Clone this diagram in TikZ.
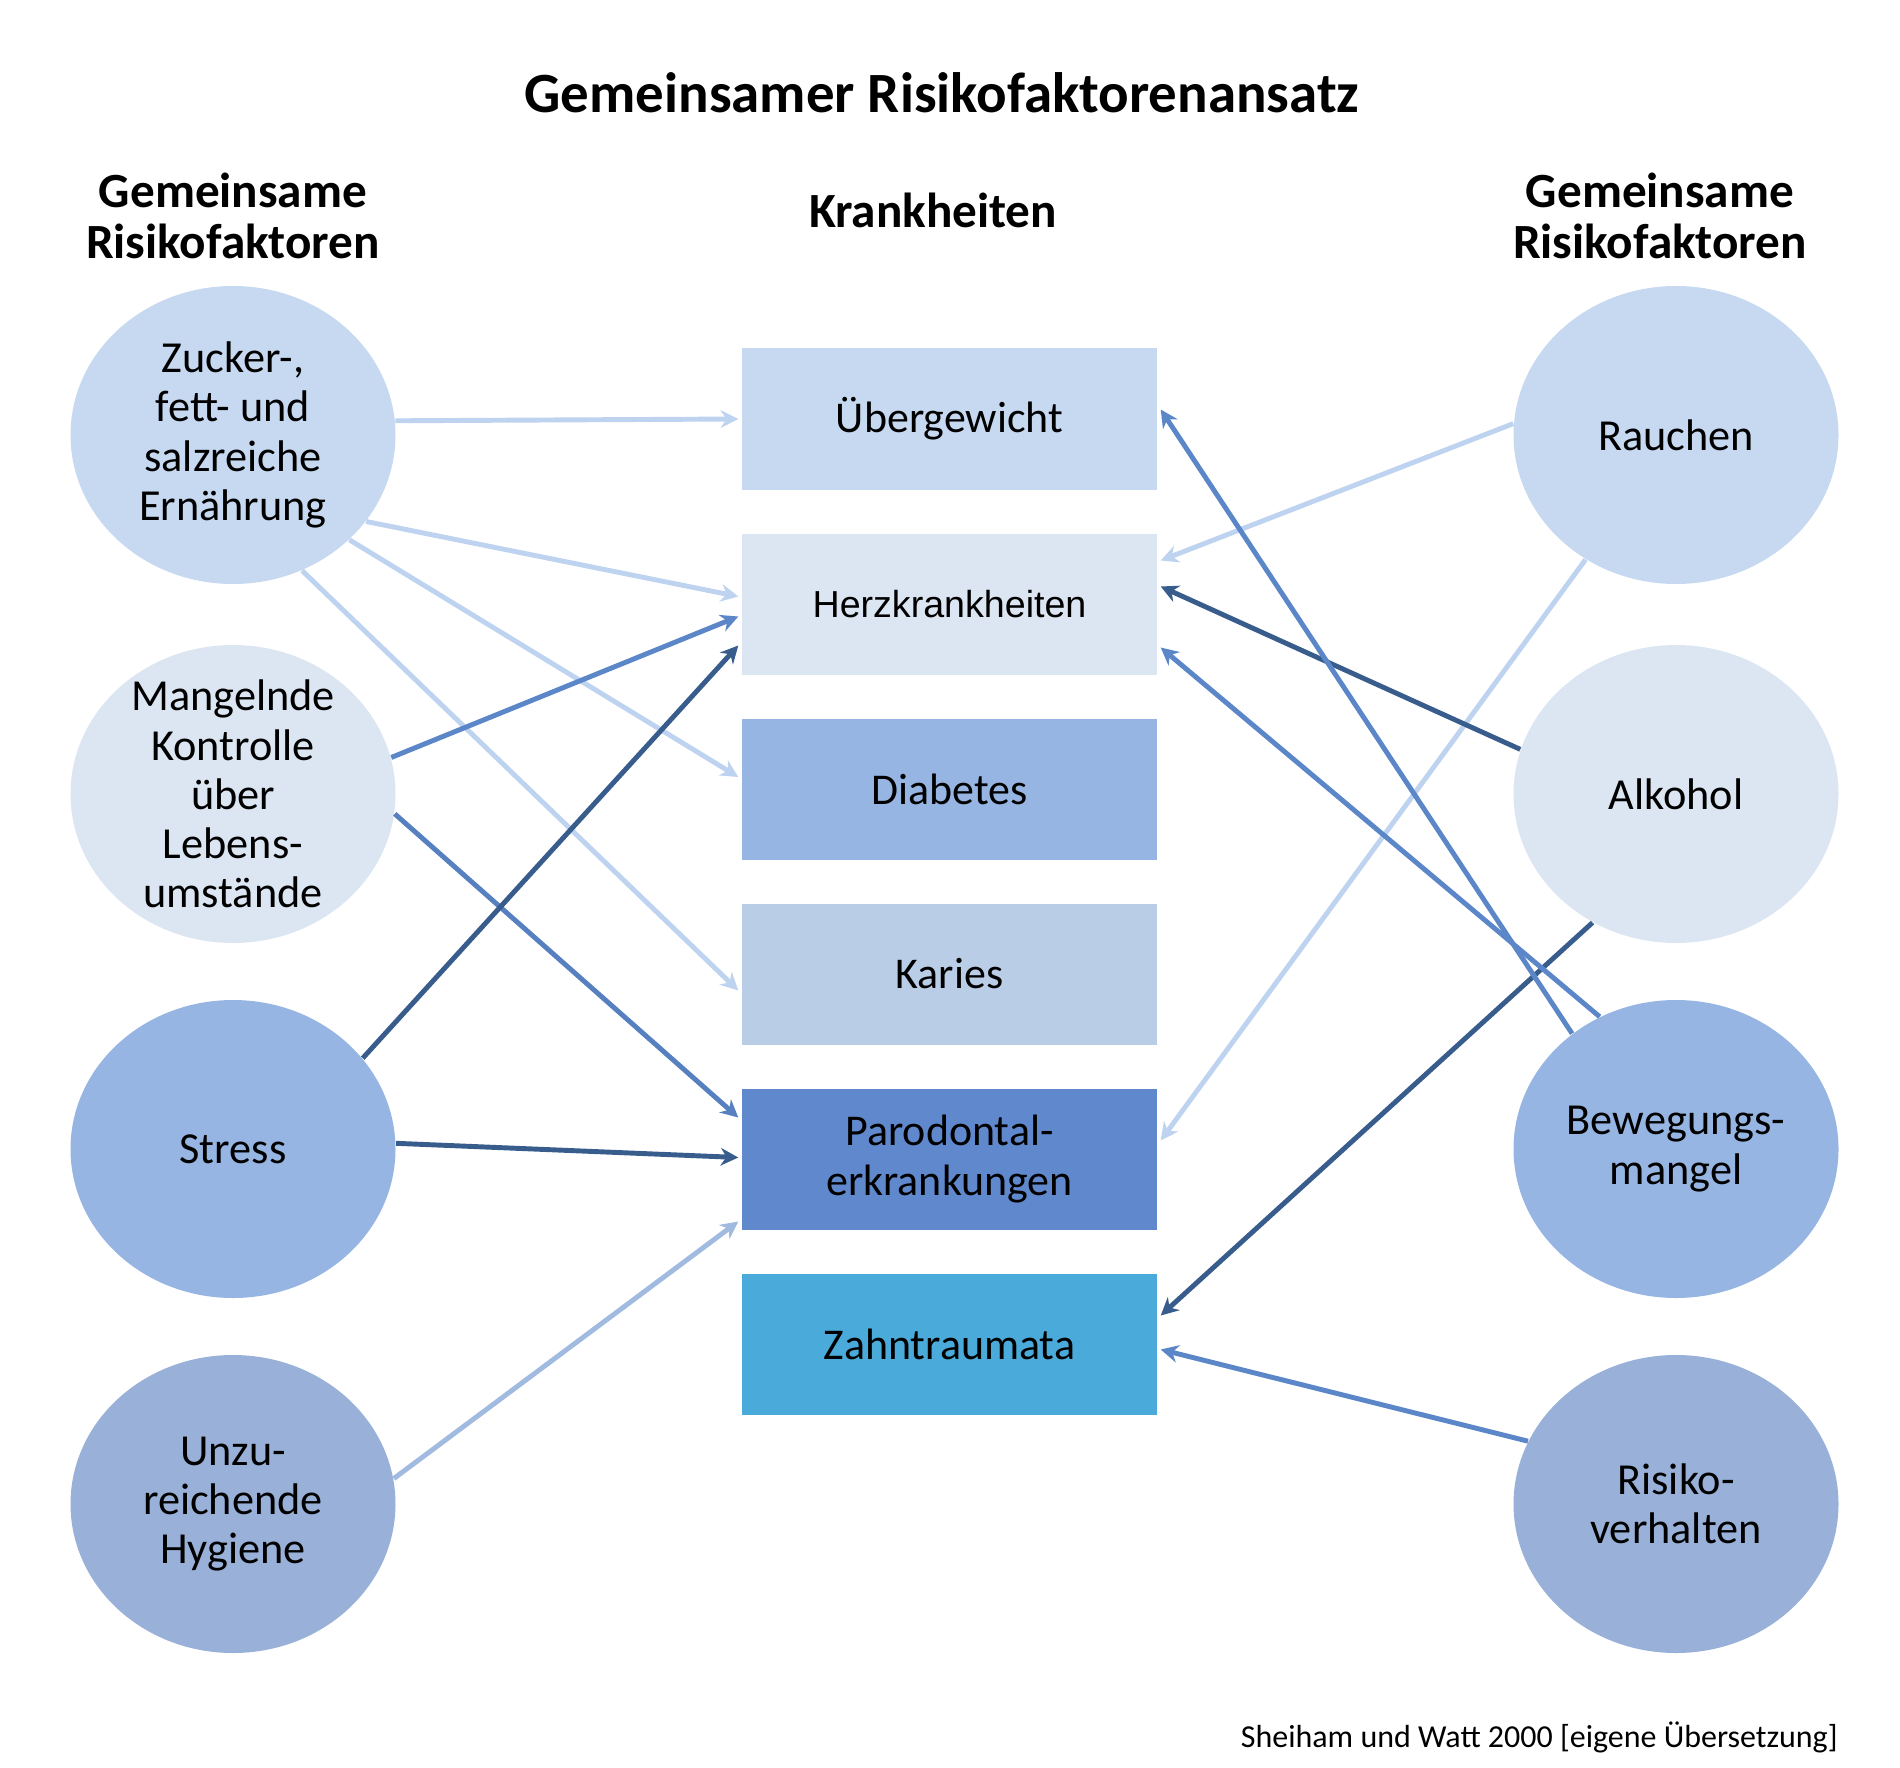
\documentclass[tikz,border=0pt]{standalone}
\usepackage{fontspec}
\setmainfont{Carlito}
\newfontfamily\arialfont{Liberation Sans}
\usetikzlibrary{shapes.geometric,arrows.meta}
\definecolor{hellblau}{HTML}{C6D9F1}
\definecolor{blassblau}{HTML}{DCE6F2}
\definecolor{mittelblau}{HTML}{96B5E2}
\definecolor{graublau}{HTML}{99B1D8}
\definecolor{kariesblau}{HTML}{B9CDE7}
\definecolor{parodontblau}{HTML}{6088CC}
\definecolor{traumablau}{HTML}{4AAADA}
\definecolor{pfeilhell}{HTML}{BED3EF}
\definecolor{pfeilmittel}{HTML}{5B86C8}
\definecolor{pfeildunkel}{HTML}{385D8C}
\definecolor{pfeilgrau}{HTML}{A0BAE0}
\tikzset{
  faktor/.style={ellipse,minimum width=3.25cm,minimum height=2.98cm,inner xsep=0pt,inner ysep=-14pt,align=center,font=\fontsize{12.6}{14}\selectfont},
  krankheit/.style={rectangle,minimum width=4.15cm,minimum height=1.41cm,inner sep=0pt,align=center,font=\fontsize{12.5}{14.5}\selectfont},
  kopf/.style={align=center,font=\fontsize{14}{14.5}\selectfont\bfseries},
  pfeil/.style={line width=1.4pt,-{Stealth[length=5pt,width=5pt]}}
}
\begin{document}
\begin{tikzpicture}
	\useasboundingbox (0,0) rectangle (19,-17.67);
	\node (titel) [font=\fontsize{16.2}{19}\selectfont\bfseries] at (9.42,-0.93) {Gemeinsamer Risikofaktorenansatz};
	\node (kopflinks) [kopf] at (2.33,-2.16) {Gemeinsame\\Risikofaktoren};
	\node (kopfmitte) [kopf] at (9.33,-2.10) {Krankheiten};
	\node (kopfrechts) [kopf] at (16.60,-2.16) {Gemeinsame\\Risikofaktoren};
	\node (zucker) [faktor,fill=hellblau] at (2.33,-4.35) {Zucker-,\\fett- und\\salzreiche\\Ernährung};
	\node (kontrolle) [faktor,fill=blassblau] at (2.33,-7.94) {Mangelnde\\Kontrolle\\über\\Lebens-\\umstände};
	\node (stress) [faktor,fill=mittelblau] at (2.33,-11.49) {Stress};
	\node (hygiene) [faktor,fill=graublau] at (2.33,-15.04) {Unzu-\\reichende\\Hygiene};
	\node (rauchen) [faktor,fill=hellblau] at (16.76,-4.35) {Rauchen};
	\node (alkohol) [faktor,fill=blassblau] at (16.76,-7.94) {Alkohol};
	\node (bewegung) [faktor,fill=mittelblau] at (16.76,-11.49) {Bewegungs-\\mangel};
	\node (risiko) [faktor,fill=graublau] at (16.76,-15.04) {Risiko-\\verhalten};
	\node (uebergewicht) [krankheit,fill=hellblau] at (9.495,-4.19) {Übergewicht};
	\node (herz) [krankheit,fill=blassblau,font=\arialfont\fontsize{10.7}{13}\selectfont] at (9.495,-6.04) {Herzkrankheiten};
	\node (diabetes) [krankheit,fill=mittelblau] at (9.495,-7.89) {Diabetes};
	\node (karies) [krankheit,fill=kariesblau] at (9.495,-9.74) {Karies};
	\node (parodont) [krankheit,fill=parodontblau] at (9.495,-11.59) {Parodontal-\\erkrankungen};
	\node (trauma) [krankheit,fill=traumablau] at (9.495,-13.44) {Zahntraumata};
	\node (quelle) [anchor=east,font=\fontsize{9.1}{11}\selectfont] at (18.50,-17.37) {Sheiham und Watt 2000 [eigene Übersetzung]};
	\draw [pfeil,pfeilhell] (zucker.5) -- ([xshift=-0.03cm]uebergewicht.west);
	\draw [pfeil,pfeilhell] (zucker.-33) -- ([xshift=-0.03cm,yshift=0.075cm]herz.west);
	\draw [pfeil,pfeilhell] (zucker.-42) -- ([xshift=-0.03cm,yshift=0.12cm]diabetes.west);
	\draw [pfeil,pfeilhell] (zucker.-63) -- ([xshift=-0.03cm,yshift=-0.165cm]karies.west);
	\draw [pfeil,pfeilmittel] (kontrolle.13) -- ([xshift=-0.03cm,yshift=-0.125cm]herz.west);
	\draw [pfeil,pfeilmittel!85!pfeildunkel] (kontrolle.-7) -- ([xshift=-0.03cm,yshift=0.415cm]parodont.west);
	\draw [pfeil,pfeildunkel] (stress.35) -- ([xshift=-0.03cm,yshift=-0.415cm]herz.west);
	\draw [pfeil,pfeildunkel] (stress.2) -- ([xshift=-0.03cm,yshift=0.015cm]parodont.west);
	\draw [pfeil,pfeilgrau] (hygiene.9) -- ([xshift=-0.03cm,yshift=-0.625cm]parodont.west);
	\draw [pfeil,pfeilhell] (rauchen.176) -- ([xshift=0.03cm,yshift=0.435cm]herz.east);
	\draw [pfeil,pfeilhell] (rauchen.234) -- ([xshift=0.03cm,yshift=0.185cm]parodont.east);
	\draw [pfeil,pfeildunkel] (alkohol.164) -- ([xshift=0.03cm,yshift=0.175cm]herz.east);
	\draw [pfeil,pfeildunkel] (alkohol.237) -- ([xshift=0.03cm,yshift=0.285cm]trauma.east);
	\draw [pfeil,pfeilmittel] (bewegung.132) -- ([xshift=0.03cm,yshift=0.095cm]uebergewicht.east);
	\draw [pfeil,pfeilmittel] (bewegung.120) -- ([xshift=0.03cm,yshift=-0.435cm]herz.east);
	\draw [pfeil,pfeilmittel] (risiko.157) -- ([xshift=0.03cm,yshift=-0.055cm]trauma.east);
\end{tikzpicture}
\end{document}
